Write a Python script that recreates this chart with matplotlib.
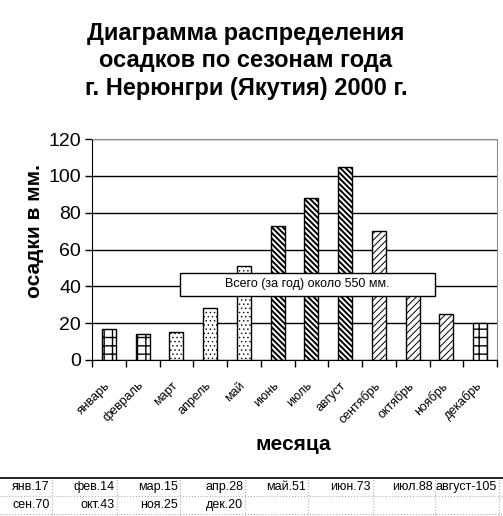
import numpy as np
import matplotlib.pyplot as plt
from matplotlib.patches import Rectangle
from matplotlib.lines import Line2D
import matplotlib.transforms as mtransforms

plt.rcParams['font.family'] = ['Liberation Sans', 'DejaVu Sans']

# Data
months = ['январь', 'февраль', 'март', 'апрель', 'май', 'июнь', 'июль',
          'август', 'сентябрь', 'октябрь', 'ноябрь', 'декабрь']
precip = [17, 14, 15, 28, 51, 73, 88, 105, 70, 43, 25, 20]
seasons = ['winter', 'winter', 'spring', 'spring', 'spring', 'summer', 'summer',
           'summer', 'autumn', 'autumn', 'autumn', 'winter']
yticks = [0, 20, 40, 60, 80, 100, 120]
table_row1 = ['янв.17', 'фев.14', 'мар.15', 'апр.28', 'май.51', 'июн.73', 'июл.88', 'август-105']
table_row2 = ['сен.70', 'окт.43', 'ноя.25', 'дек.20']

title = 'Диаграмма распределения\nосадков по сезонам года\nг. Нерюнгри (Якутия) 2000 г.'
note = 'Всего (за год) около 550 мм.'

# hatch pattern and hatch line width per season
hatch_style = {
    'winter': ('++', 1.0),
    'spring': ('....', 0.5),
    'summer': ('\\' * 6, 1.4),
    'autumn': ('/' * 5, 0.7),
}

W, H = 503, 516
fig = plt.figure(figsize=(W / 100, H / 100), dpi=100)
ax = fig.add_axes([92 / W, 1 - 360 / H, 405 / W, 221 / H])

x = np.arange(len(months))
for xi, val, s in zip(x, precip, seasons):
    h, lw = hatch_style[s]
    with plt.rc_context({'hatch.linewidth': lw}):
        b = ax.bar(xi, val, width=0.42, color='white', edgecolor='black',
                   linewidth=1.0, hatch=h, zorder=3)
    for p in b:
        if hasattr(p, 'set_hatch_linewidth'):
            p.set_hatch_linewidth(lw)

ax.set_xlim(-0.5, len(months) - 0.5)
ax.set_ylim(0, 120)
ax.set_yticks(yticks)
ax.tick_params(axis='y', labelsize=14, length=5, width=1, direction='out', pad=3)
ax.yaxis.grid(True, color='black', linewidth=1)
ax.set_axisbelow(True)

ax.set_xticks(x)
ax.set_xticklabels(months, rotation=45, ha='right', rotation_mode='anchor', fontsize=9)
ax.tick_params(axis='x', which='major', length=0, pad=14)
offset = mtransforms.ScaledTranslation(-5 / 100, 0, fig.dpi_scale_trans)
for lab in ax.get_xticklabels():
    lab.set_transform(lab.get_transform() + offset)
ax.set_xticks(np.arange(-0.5, len(months)), minor=True)
ax.tick_params(axis='x', which='minor', length=5, width=1, direction='out')

for side in ['top', 'right']:
    ax.spines[side].set_color('#909090')
for side in ['left', 'bottom']:
    ax.spines[side].set_color('black')

ax.set_ylabel('осадки в мм.', fontsize=15, fontweight='bold')
ax.yaxis.set_label_coords(-0.118, 0.584)
ax.set_xlabel('месяца', fontsize=15, fontweight='bold')
ax.xaxis.set_label_coords(0.496, -0.338)

# note box
ax.add_patch(Rectangle((0.217, 0.29), 0.63, 0.104, transform=ax.transAxes,
                       facecolor='white', edgecolor='black', linewidth=1, zorder=5))
ax.text(0.532, 0.342, note, transform=ax.transAxes, ha='center', va='center',
        fontsize=9, zorder=6)

fig.text(246 / W, 1 - 61 / H, title, ha='center', va='center', fontsize=17,
         fontweight='bold', linespacing=1.25)

# spreadsheet table below the chart
fig.add_artist(Line2D([0, 1], [1 - 478 / H, 1 - 478 / H], transform=fig.transFigure,
                      color='black', linewidth=1.2))
fig.add_artist(Line2D([0, 1], [1 - 496 / H, 1 - 496 / H], transform=fig.transFigure,
                      color='#b0b0b0', linewidth=0.8, linestyle=':'))
fig.add_artist(Line2D([0, 1], [1 - 514 / H, 1 - 514 / H], transform=fig.transFigure,
                      color='#b0b0b0', linewidth=0.8, linestyle=':'))
col_edges = [52, 117, 180, 245, 308, 373, 435, 499]
for cx in col_edges:
    fig.add_artist(Line2D([cx / W, cx / W], [0, 1 - 478 / H], transform=fig.transFigure,
                          color='#b0b0b0', linewidth=0.8, linestyle=':'))
for i, t in enumerate(table_row1):
    fig.text((col_edges[i] - 2) / W, 1 - 487 / H, t, ha='right', va='center', fontsize=9)
for i, t in enumerate(table_row2):
    fig.text((col_edges[i] - 2) / W, 1 - 505 / H, t, ha='right', va='center', fontsize=9)

fig.savefig('out.png', dpi=100)
